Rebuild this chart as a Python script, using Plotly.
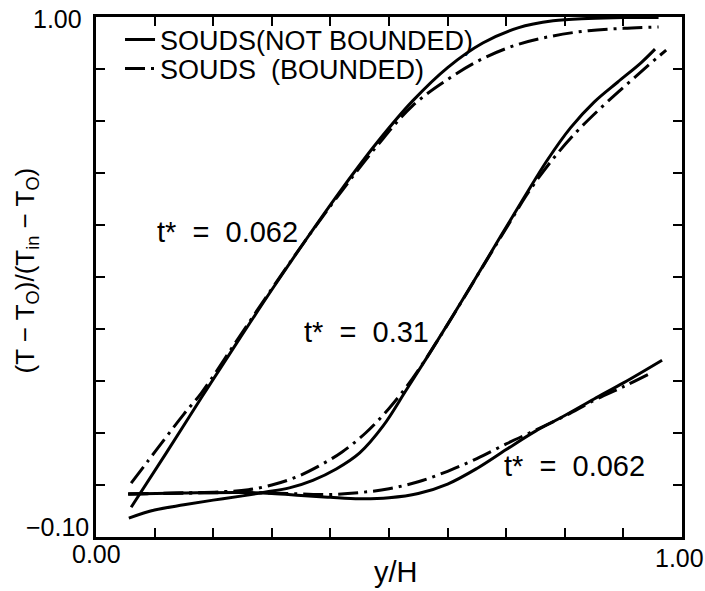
import plotly.graph_objects as go

# ---- data ----
a_solid_x = [0.060, 0.12, 0.18, 0.24, 0.30, 0.36, 0.42, 0.48, 0.54, 0.60, 0.66, 0.72, 0.78, 0.84, 0.90, 0.96]
a_solid_y = [-0.037, 0.078, 0.195, 0.310, 0.423, 0.532, 0.637, 0.735, 0.822, 0.893, 0.945, 0.977, 0.992, 0.997, 0.999, 0.999]
a_dd_x = [0.060, 0.09, 0.12, 0.15, 0.18, 0.24, 0.30, 0.36, 0.42, 0.48, 0.54, 0.60, 0.66, 0.72, 0.78, 0.84, 0.90, 0.96]
a_dd_y = [0.014, 0.063, 0.112, 0.160, 0.205, 0.315, 0.425, 0.532, 0.633, 0.728, 0.812, 0.868, 0.912, 0.942, 0.960, 0.971, 0.976, 0.979]

b_solid_x = [0.056, 0.10, 0.15, 0.20, 0.25, 0.29, 0.33, 0.37, 0.41, 0.45, 0.49, 0.53, 0.57, 0.61, 0.65, 0.69, 0.73, 0.77, 0.81, 0.85, 0.89, 0.93, 0.954]
b_solid_y = [-0.060, -0.043, -0.032, -0.022, -0.013, -0.005, 0.004, 0.020, 0.044, 0.078, 0.135, 0.212, 0.290, 0.370, 0.452, 0.535, 0.617, 0.697, 0.766, 0.820, 0.862, 0.903, 0.932]
b_dd_x = [0.055, 0.15, 0.22, 0.26, 0.30, 0.34, 0.38, 0.42, 0.46, 0.50, 0.54, 0.58, 0.62, 0.66, 0.70, 0.74, 0.78, 0.82, 0.86, 0.90, 0.94, 0.973]
b_dd_y = [-0.009, -0.007, -0.004, 0.000, 0.010, 0.026, 0.050, 0.080, 0.120, 0.172, 0.235, 0.310, 0.390, 0.472, 0.553, 0.633, 0.700, 0.757, 0.806, 0.851, 0.895, 0.930]

c_solid_x = [0.055, 0.15, 0.25, 0.30, 0.35, 0.40, 0.45, 0.50, 0.55, 0.60, 0.65, 0.70, 0.75, 0.80, 0.85, 0.90, 0.966]
c_solid_y = [-0.009, -0.007, -0.006, -0.008, -0.012, -0.016, -0.019, -0.017, -0.008, 0.012, 0.045, 0.085, 0.124, 0.157, 0.192, 0.226, 0.274]
c_dd_x = [0.055, 0.15, 0.25, 0.30, 0.35, 0.40, 0.45, 0.50, 0.55, 0.60, 0.65, 0.70, 0.75, 0.80, 0.85, 0.90, 0.944]
c_dd_y = [-0.009, -0.007, -0.006, -0.007, -0.009, -0.010, -0.006, 0.002, 0.017, 0.039, 0.066, 0.097, 0.126, 0.156, 0.189, 0.218, 0.245]

series_names = ["SOUDS(NOT BOUNDED)", "SOUDS  (BOUNDED)"]

curve_labels = ["t*  =  0.062", "t*  =  0.31", "t*  =  0.062"]
curve_label_x = [0.225, 0.462, 0.817]
curve_label_y = [0.545, 0.334, 0.050]

x_tick_vals = [0.0, 1.0]
x_tick_text = ["0.00", "1.00"]
y_tick_vals = [-0.10, 1.00]
y_tick_text = ["\u22120.10", "1.00"]

x_title = "y/H"
y_title = "(T \u2212 T<sub>O</sub>)/(T<sub>in</sub> \u2212 T<sub>O</sub>)"

FONT = "Liberation Sans, Arial, Helvetica, sans-serif"
DD = "20px,6px,3px,6px"
LW = 3

fig = go.Figure()

def add(x, y, dash, name, show, legend):
    fig.add_trace(go.Scatter(
        x=x, y=y, mode="lines", name=name, showlegend=show, legend=legend,
        line=dict(color="black", width=LW, dash=dash, shape="spline", smoothing=1.0),
    ))

add(a_solid_x, a_solid_y, "solid", series_names[0], True, "legend")
add(b_solid_x, b_solid_y, "solid", series_names[0], False, "legend")
add(c_solid_x, c_solid_y, "solid", series_names[0], False, "legend")
add(a_dd_x, a_dd_y, DD, series_names[1], True, "legend2")
add(b_dd_x, b_dd_y, DD, series_names[1], False, "legend2")
add(c_dd_x, c_dd_y, DD, series_names[1], False, "legend2")

axis_common = dict(
    showgrid=False, zeroline=False, showline=True, linecolor="black", linewidth=2.5,
    ticks="inside", ticklen=9, tickwidth=2, tickcolor="black", mirror="ticks",
    showticklabels=False,
)
fig.update_xaxes(range=[0, 1], tick0=0, dtick=0.1, **axis_common)
fig.update_yaxes(range=[-0.1, 1.0], tick0=-0.1, dtick=0.11, **axis_common)

ann = []
for t, x, y in zip(curve_labels, curve_label_x, curve_label_y):
    ann.append(dict(text=t, x=x, y=y, xref="x", yref="y", showarrow=False,
                    font=dict(size=29, family=FONT, color="black")))

# tick labels
ann.append(dict(text=y_tick_text[1], x=0, xref="paper", y=y_tick_vals[1], yref="y",
                xanchor="right", yanchor="middle", xshift=-12, yshift=-2, showarrow=False,
                font=dict(size=25, family=FONT, color="black")))
ann.append(dict(text=y_tick_text[0], x=0, xref="paper", y=y_tick_vals[0], yref="y",
                xanchor="right", yanchor="middle", xshift=-5, yshift=10, showarrow=False,
                font=dict(size=25, family=FONT, color="black")))
ann.append(dict(text=x_tick_text[0], x=x_tick_vals[0], xref="x", y=0, yref="paper",
                xanchor="center", yanchor="top", yshift=-1, showarrow=False,
                font=dict(size=25, family=FONT, color="black")))
ann.append(dict(text=x_tick_text[1], x=x_tick_vals[1], xref="x", y=0, yref="paper",
                xanchor="center", yanchor="top", xshift=-3, yshift=-5, showarrow=False,
                font=dict(size=25, family=FONT, color="black")))
# axis titles
ann.append(dict(text=x_title, x=0.512, xref="paper", y=-0.068, yref="paper",
                xanchor="center", yanchor="middle", showarrow=False,
                font=dict(size=29, family=FONT, color="black")))
ann.append(dict(text=y_title, x=-0.119, xref="paper", y=0.513, yref="paper",
                xanchor="center", yanchor="middle", textangle=-90, showarrow=False,
                font=dict(size=26, family=FONT, color="black")))

fig.update_layout(
    width=705, height=591,
    margin=dict(l=96, r=23, t=17, b=54),
    paper_bgcolor="white", plot_bgcolor="white",
    font=dict(family=FONT, color="black"),
    annotations=ann,
    legend=dict(x=0.041, xanchor="left", y=0.956, yanchor="middle", bgcolor="rgba(0,0,0,0)",
                font=dict(size=27, family=FONT, color="black"), borderwidth=0),
    legend2=dict(x=0.041, xanchor="left", y=0.900, yanchor="middle", bgcolor="rgba(0,0,0,0)",
                 font=dict(size=27, family=FONT, color="black"), borderwidth=0),
)

fig.write_html("out.html")
